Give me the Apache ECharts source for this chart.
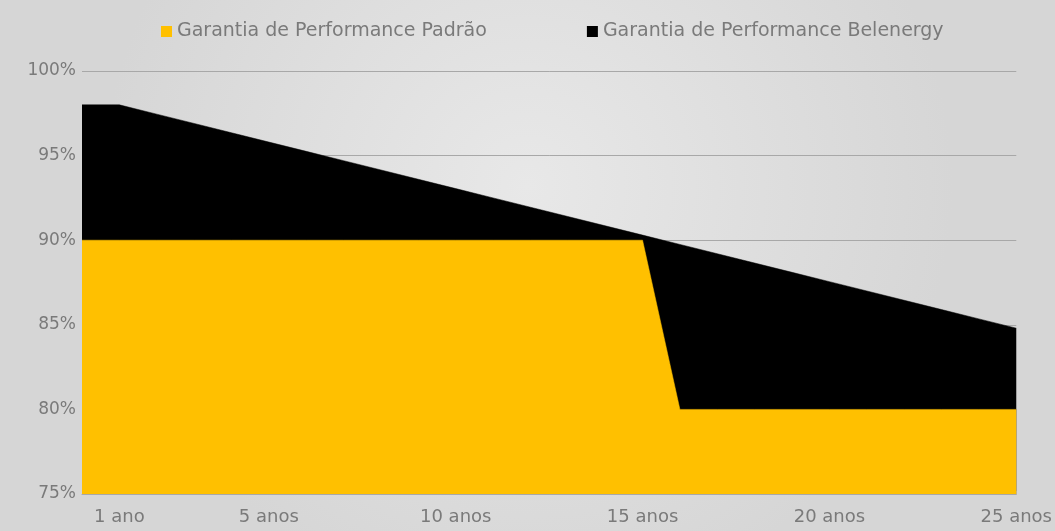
<!DOCTYPE html>
<html>
<head>
<meta charset="utf-8">
<script src="https://cdn.jsdelivr.net/npm/echarts@6/dist/echarts.min.js"></script>
<style>
html,body{margin:0;padding:0;background:#dcdcdc;}
#chart{width:1055px;height:531px;}
</style>
</head>
<body>
<div id="chart"></div>
<script>
const categories = ["", "1 ano", "2 anos", "3 anos", "4 anos", "5 anos", "6 anos", "7 anos", "8 anos", "9 anos", "10 anos",
  "11 anos", "12 anos", "13 anos", "14 anos", "15 anos", "16 anos", "17 anos", "18 anos", "19 anos", "20 anos",
  "21 anos", "22 anos", "23 anos", "24 anos", "25 anos"];
const shownLabels = [1, 5, 10, 15, 20, 25];
const padrao = [90, 90, 90, 90, 90, 90, 90, 90, 90, 90, 90, 90, 90, 90, 90, 90,
  80, 80, 80, 80, 80, 80, 80, 80, 80, 80];
const belenergy = [98, 98, 97.45, 96.9, 96.35, 95.8, 95.25, 94.7, 94.15, 93.6, 93.05, 92.5, 91.95, 91.4, 90.85,
  90.3, 89.75, 89.2, 88.65, 88.1, 87.55, 87.0, 86.45, 85.9, 85.35, 84.8];
const yMin = 75, yMax = 100, yStep = 5;
const seriesNames = ["Garantia de Performance Padrão", "Garantia de Performance Belenergy"];

const chart = echarts.init(document.getElementById('chart'));
const font = '"DejaVu Sans", sans-serif';
chart.setOption({
  backgroundColor: {
    type: 'radial', x: 0.5, y: 0.35, r: 0.8,
    colorStops: [{offset: 0, color: '#e8e8e8'}, {offset: 1, color: '#d6d6d6'}]
  },
  animation: false,
  textStyle: {fontFamily: font},
  legend: {
    data: seriesNames,
    left: 156, top: 17,
    itemWidth: 11, itemHeight: 11, itemGap: 100,
    icon: 'rect',
    textStyle: {color: '#7a7a7a', fontSize: 19, fontFamily: font}
  },
  grid: {left: 82, right: 38, top: 71, bottom: 37, containLabel: false},
  xAxis: {
    type: 'category',
    data: categories,
    boundaryGap: false,
    axisLine: {lineStyle: {color: '#a8a8a8', width: 1}},
    axisTick: {show: true, interval: 0, length: 3, inside: true, lineStyle: {color: 'rgba(255,255,255,0.7)'}},
    axisLabel: {
      interval: (i) => shownLabels.includes(i),
      color: '#7a7a7a', fontSize: 18, margin: 14, fontFamily: font
    },
    splitLine: {show: false}
  },
  yAxis: {
    type: 'value', min: yMin, max: yMax, interval: yStep,
    axisLine: {show: false}, axisTick: {show: false},
    axisLabel: {formatter: '{value}%', color: '#7a7a7a', fontSize: 17, margin: 6, fontFamily: font},
    splitLine: {lineStyle: {color: '#a8a8a8', width: 1}}
  },
  series: [
    {
      name: seriesNames[1], type: 'line', data: belenergy, symbol: 'none', z: 2,
      itemStyle: {color: '#000000'},
      lineStyle: {width: 0.5, color: '#000000'},
      areaStyle: {color: '#000000', opacity: 1, origin: 'start'}
    },
    {
      name: seriesNames[0], type: 'line', data: padrao, symbol: 'none', z: 3,
      itemStyle: {color: '#FFC000'},
      lineStyle: {width: 0.5, color: '#FFC000'},
      areaStyle: {color: '#FFC000', opacity: 1, origin: 'start'}
    }
  ]
});
</script>
</body>
</html>
